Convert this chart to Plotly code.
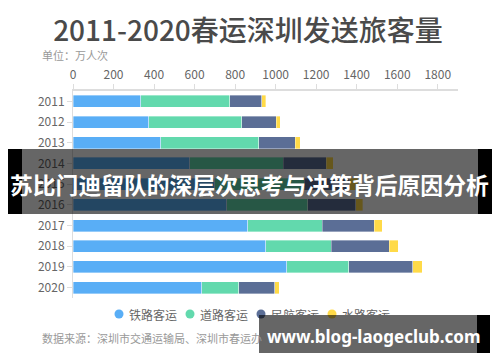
import plotly.graph_objects as go

years = ['2011', '2012', '2013', '2014', '2015', '2016', '2017', '2018', '2019', '2020']
rail = [335, 373, 434, 575, 700, 759, 863, 950, 1054, 636]
road = [438, 460, 483, 462, 442, 400, 367, 324, 307, 181]
air = [159, 170, 181, 212, 223, 236, 256, 286, 316, 178]
water = [18, 21, 24, 35, 40, 35, 41, 46, 46, 24]
series_names = ['铁路客运', '道路客运', '民航客运', '水路客运']
colors = ['#59AEF6', '#62D9AD', '#5B6E96', '#FFDA48']
x_ticks = [0, 200, 400, 600, 800, 1000, 1200, 1400, 1600, 1800]

W, H = 500, 362
L, R, T, B = 73, 42, 91, 64
FONT = 'Noto Sans CJK SC'

def px(xp):
    return (xp - L) / (W - L - R)

def py(yp):
    return 1 - (yp - T) / (H - T - B)

fig = go.Figure()
for name, vals, c in zip(series_names, [rail, road, air, water], colors):
    fig.add_trace(go.Bar(
        y=years, x=vals, name=name, orientation='h',
        marker=dict(color=c, line=dict(color='rgba(255,255,255,0.6)', width=0.6)),
        showlegend=False,
    ))

shapes = []
annotations = []

# legend (manual, circle markers)
leg_x = [119, 190, 261, 332]
for name, c, cx in zip(series_names, colors, leg_x):
    shapes.append(dict(type='circle', xref='paper', yref='paper',
                       x0=px(cx - 4.5), x1=px(cx + 4.5), y0=py(314 + 4.5), y1=py(314 - 4.5),
                       fillcolor=c, line=dict(width=0)))
    annotations.append(dict(text=name, xref='paper', yref='paper', x=px(cx + 8), y=py(314),
                            xanchor='left', yanchor='middle', showarrow=False,
                            font=dict(family=FONT, size=12, color='#666')))

# subtitle & source
annotations.append(dict(text='单位：万人次', xref='paper', yref='paper', x=px(40), y=py(55),
                        xanchor='left', yanchor='middle', showarrow=False,
                        font=dict(family=FONT, size=11, color='#999')))
annotations.append(dict(text='数据来源：深圳市交通运输局、深圳市春运办', xref='paper', yref='paper',
                        x=px(40), y=py(338), xanchor='left', yanchor='middle', showarrow=False,
                        font=dict(family=FONT, size=11, color='#999')))

# watermark band overlays
shapes.append(dict(type='rect', xref='paper', yref='paper', x0=px(22), x1=px(478),
                   y0=py(214), y1=py(149), fillcolor='rgba(0,0,0,0.6)', line=dict(width=0), layer='above'))
shapes.append(dict(type='rect', xref='paper', yref='paper', x0=px(8), x1=px(22),
                   y0=py(214), y1=py(149), fillcolor='#000', line=dict(width=0), layer='above'))
shapes.append(dict(type='rect', xref='paper', yref='paper', x0=px(478), x1=px(492),
                   y0=py(214), y1=py(149), fillcolor='#000', line=dict(width=0), layer='above'))
annotations.append(dict(text='<b>苏比门迪留队的深层次思考与决策背后原因分析</b>', xref='paper', yref='paper',
                        x=px(249), y=py(184), xanchor='center', yanchor='middle', showarrow=False,
                        font=dict(family=FONT, size=22.8, color='#fff')))

shapes.append(dict(type='rect', xref='paper', yref='paper', x0=px(259), x1=px(477),
                   y0=py(353), y1=py(315), fillcolor='rgba(0,0,0,0.6)', line=dict(width=0), layer='above'))
shapes.append(dict(type='rect', xref='paper', yref='paper', x0=px(477), x1=px(490),
                   y0=py(353), y1=py(315), fillcolor='#000', line=dict(width=0), layer='above'))
annotations.append(dict(text='<b>www.blog-laogeclub.com</b>', xref='paper', yref='paper',
                        x=px(374), y=py(336), xanchor='center', yanchor='middle', showarrow=False,
                        font=dict(family='Noto Sans', size=17, color='#fff')))

fig.update_layout(
    width=W, height=H,
    margin=dict(l=L, r=R, t=T, b=B),
    paper_bgcolor='#fff', plot_bgcolor='#fff',
    barmode='stack', bargap=0.42,
    title=dict(text='2011-2020春运深圳发送旅客量', x=248 / W, xanchor='center',
               y=1 - 31 / H, yanchor='middle',
               font=dict(family=FONT, size=28, color='#4a4a4a', weight=500)),
    xaxis=dict(side='top', range=[0, 1900], tickvals=x_ticks, showgrid=False, zeroline=False,
               showline=True, linecolor='#ddd', linewidth=1.5, ticks='outside', ticklen=5,
               tickcolor='#ddd', tickfont=dict(family=FONT, size=12, color='#666')),
    yaxis=dict(autorange='reversed', showgrid=False, showline=True, linecolor='#ddd', linewidth=1,
               ticks='outside', ticklen=5, tickcolor='#ddd',
               tickfont=dict(family=FONT, size=12, color='#666')),
    shapes=shapes, annotations=annotations,
)

fig.write_html('out.html', config={'displayModeBar': False},
               post_script="document.body.style.margin='0';")
